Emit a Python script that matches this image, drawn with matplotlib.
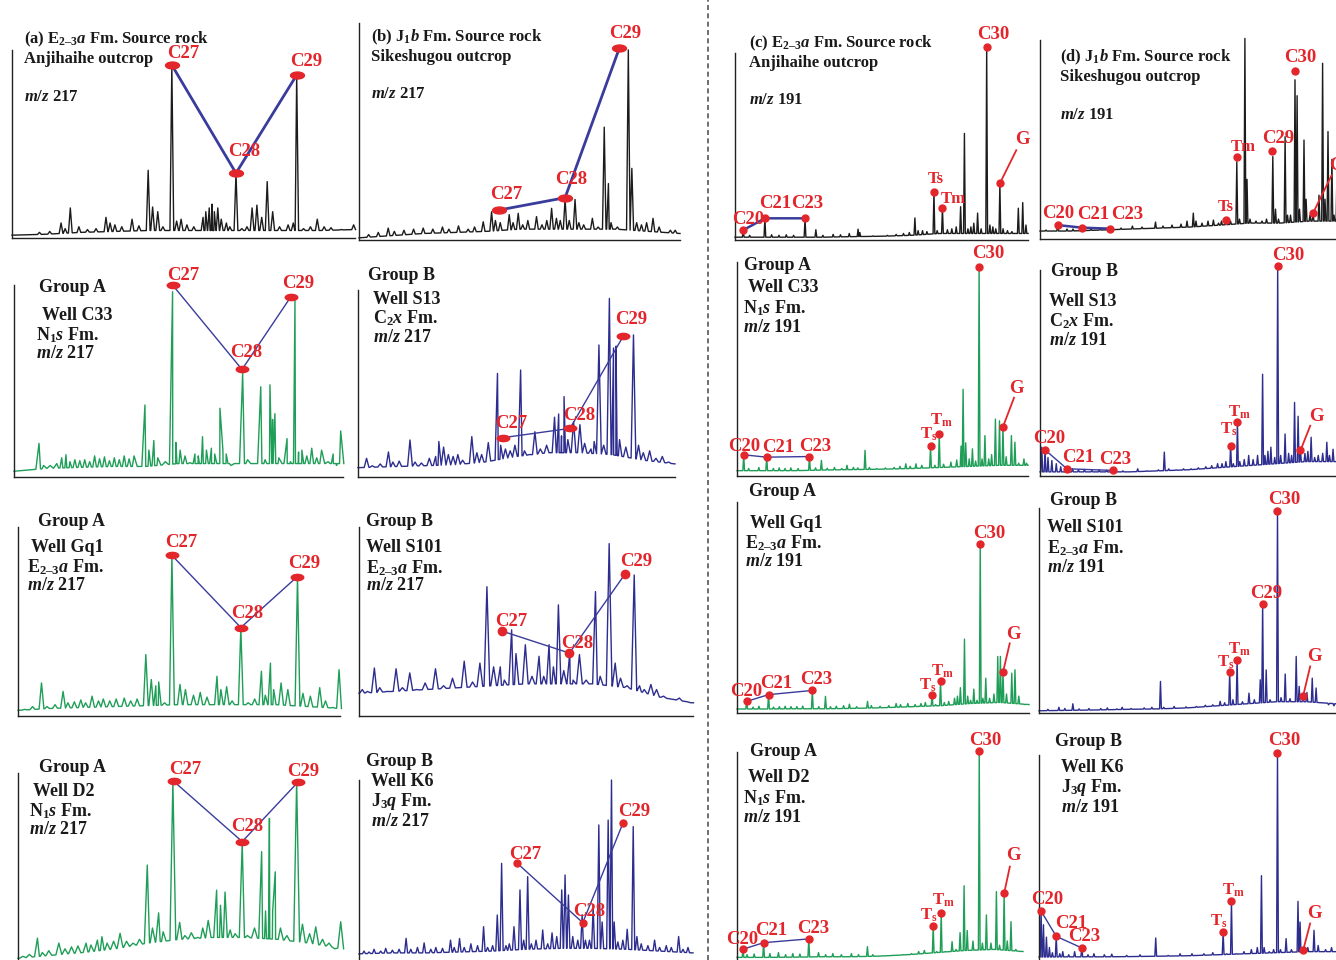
import numpy as np
import matplotlib
matplotlib.use("Agg")
import matplotlib.pyplot as plt
from matplotlib.path import Path
import matplotlib.transforms as mtrans

plt.rcParams['font.family'] = ['Liberation Serif', 'DejaVu Serif']
plt.rcParams['font.weight'] = 'bold'
plt.rcParams['mathtext.fontset'] = 'custom'
plt.rcParams['mathtext.rm'] = 'Liberation Serif:bold'
plt.rcParams['mathtext.it'] = 'Liberation Serif:italic:bold'
plt.rcParams['mathtext.bf'] = 'Liberation Serif:bold'

# ---------------------------------------------------------------- DATA
# each trace: baseline level at evenly spaced retention positions (0..100 %),
# peaks as (retention %, intensity % of panel height), labelled peaks as marks

# (a) E2-3a source rock, m/z 217
out_a_base = [1.5, 2, 3, 3.5, 4, 4, 4, 4, 4, 4, 4.5]
out_a_peaks = [(8, 3), (11, 3.5), (14.3, 8), (15.5, 5), (17, 16), (19.5, 6), (22, 4.5), (24.5, 5),
               (27.4, 11), (28.6, 8), (30, 7), (32, 6), (35, 10), (37, 6.5), (39.7, 36), (41, 16.5),
               (42.5, 14), (44, 6), (46.6, 92), (48, 9), (49.3, 10), (51, 7), (53, 6), (55.7, 11),
               (56.5, 14), (57.5, 16), (58.3, 18), (59, 14), (60, 16), (61, 10), (62.5, 8), (63.5, 6),
               (65.3, 34.5), (67, 5), (68.5, 6), (70, 16), (71.4, 17.5), (72.8, 11), (74.4, 30),
               (76, 14), (78, 6), (80.5, 7), (82, 8), (83, 86.7), (85, 5), (87, 6), (89, 10), (91, 6),
               (93, 5.5), (96, 4.5), (99.6, 7)]
out_a_marks = {'C27': (46.6, 92), 'C28': (65.3, 34.5), 'C29': (83, 86.7)}

# (b) J1b source rock, m/z 217
out_b_base = [1, 2, 3, 3.5, 4, 5, 5, 5, 5, 4, 3]
out_b_peaks = [(3, 2.5), (6, 3.5), (9.1, 5.5), (11, 4), (14, 4.5), (17, 5), (20, 5.5), (23, 5),
               (26, 6), (28, 5), (31, 6.5), (34, 5), (36, 6), (38.7, 8.4), (41.3, 13), (42.5, 9),
               (44, 8), (46.8, 11.7), (48, 8), (49.6, 12.3), (51, 7), (52.6, 9), (55.3, 10.8),
               (57, 7), (58.5, 9), (60, 14.6), (61.5, 10), (62.7, 9), (64.2, 19), (65.5, 9),
               (67.3, 18.7), (68.5, 8), (70, 7), (72.7, 10), (74.5, 6), (76.4, 52), (77.7, 26),
               (78.5, 8), (80.5, 6), (83.9, 87.6), (85, 33), (86.5, 8), (88, 7), (89.6, 8),
               (91.6, 10), (93.5, 6), (95, 3.5), (97, 4.5), (98.5, 4.5)]
out_b_marks = {'C27': (43.6, 13.8), 'C28': (64.2, 19.5), 'C29': (81.1, 88.4)}

# (c) E2-3a source rock, m/z 191
out_c_base = [1.5, 1.5, 1.5, 1.5, 1.8, 2, 2.5, 3.5, 3.5, 3.5, 3.5]
out_c_peaks = [(2.8, 5.3), (5, 2.5), (10.2, 11.6), (12.5, 2.8), (15, 2.5), (17.5, 2.8), (20, 2.5),
               (23.9, 11.6), (27.6, 5.5), (30, 2.5), (33.5, 3), (36, 2.8), (39, 3.5), (42, 5.8),
               (42.6, 4), (47, 2.2), (52, 2.5), (55, 3), (57.5, 3.5), (59.5, 4), (61.4, 11.8),
               (62.5, 5), (64, 5), (65.5, 4.5), (67.9, 25.8), (69, 5), (70.8, 17), (72.5, 5.5),
               (74, 6), (75.5, 7), (77, 17.8), (78.3, 57), (79.5, 6), (80.5, 7), (81.5, 9),
               (82.8, 14.4), (84, 6), (85.9, 103), (87, 8), (88, 7), (89, 6), (90.4, 30.3),
               (91.5, 6), (93, 5), (94.5, 4.5), (96.7, 17), (98.2, 20), (99.3, 8)]
out_c_marks = {'C20': (2.8, 5.3), 'C21': (10.2, 11.6), 'C23': (23.9, 11.6), 'Ts': (67.9, 25.8),
               'Tm': (70.8, 17), 'C30': (85.9, 103), 'G': (90.4, 30.3)}

# (d) J1b source rock, m/z 191
out_d_base = [4, 4, 4.5, 5, 5.5, 6, 7, 8, 8, 9, 9]
out_d_peaks = [(2, 4.5), (5.9, 7), (9, 5), (11, 5), (13.9, 5.7), (17, 5), (20, 5), (23.3, 5.2),
               (27, 5.5), (30.8, 6.5), (34, 6), (38.5, 8.5), (41, 6.5), (44, 7), (47, 7.5), (49, 9),
               (51.1, 13), (52, 9), (54, 8), (56, 9), (57.8, 9.5), (59.5, 8), (60.5, 9), (62, 9.5),
               (63.5, 9), (65.6, 38.8), (66.5, 10), (68.3, 100.8), (69, 30), (70, 10), (72, 9),
               (74, 9), (75.5, 10), (77.6, 41.4), (78.5, 15), (79.5, 10), (81.7, 51.4), (82.5, 12),
               (83.5, 12), (85, 80), (85.7, 72), (86.5, 15), (88, 49.7), (88.7, 20), (90, 12),
               (91, 13), (93, 22), (94.2, 88.3), (95, 20), (96, 54), (97.3, 40), (98, 12),
               (99, 35), (99.8, 62)]
out_d_marks = {'C20': (5.9, 7), 'C21': (13.9, 5.7), 'C23': (23.3, 5.2), 'Ts': (62, 9.5),
               'Tm': (65.6, 41), 'C29': (77.4, 44), 'C30': (85, 84.4), 'G': (91, 13)}

# Group A, Well C33, m/z 217
c33_217_base = [3, 4.5, 5, 5.5, 5.5, 7, 7, 7, 7, 7, 7]
c33_217_peaks = [(7.6, 17.5), (9, 6), (11, 6), (13, 7), (14.5, 10), (15.8, 11.6), (17, 8), (18.5, 9),
                 (20, 8.5), (21.5, 9), (23, 8), (24.5, 11), (26, 9.5), (27.5, 10.5), (29, 8.5),
                 (30.5, 10), (32, 9), (33.5, 11), (35, 9.5), (36.5, 11), (39.8, 37.5), (41, 14),
                 (42.5, 19), (43.7, 10), (46, 8), (48.2, 96.5), (49.2, 18), (50.5, 14), (52, 11),
                 (53.5, 7.5), (55, 12), (56, 11), (57.3, 21), (58.5, 14), (60, 15), (61, 12),
                 (62.6, 35.8), (63.5, 14), (64.5, 12), (66, 6), (69.5, 54), (71, 9), (73, 7),
                 (75, 47), (76.3, 9), (77.8, 48), (78.6, 30), (79.3, 33), (80.5, 10), (83, 20),
                 (84, 8), (85.4, 92), (86.5, 13), (87.5, 14), (89, 11), (90.5, 15), (92, 10),
                 (93.5, 14), (95.5, 8), (97, 12), (98, 6), (99.3, 24)]
c33_217_marks = {'C27': (48.2, 100), 'C28': (69.3, 56), 'C29': (84.2, 94)}

# Group B, Well S13, m/z 217
s13_217_base = [5, 5.5, 6, 6.5, 8, 11, 13, 13, 12, 9, 7]
s13_217_peaks = [(2.7, 10), (4.5, 6), (7, 7), (9.6, 13.4), (11, 8), (13, 8.5), (16.4, 19.8), (18, 8),
                 (20, 7.5), (22.5, 10), (24.5, 11), (25.5, 19), (27, 16), (28.5, 12), (30, 11),
                 (31.5, 12), (33, 9), (35.9, 21.6), (37.5, 13), (39, 12), (41.1, 18.4), (44, 55.4),
                 (45, 17), (46.5, 15), (48, 14), (49.5, 17), (51.3, 57.2), (52.5, 14), (54, 12),
                 (55.8, 24.2), (57.5, 15), (59.5, 17), (62, 32), (63.3, 33.7), (64.2, 22), (65, 43),
                 (66.2, 20), (68, 29.5), (70, 28), (71.5, 18), (73.5, 15), (74.5, 19), (76, 70.6),
                 (77.5, 17), (79.3, 95.5), (80.6, 69), (81.4, 70), (82.5, 20), (84.5, 16),
                 (86.9, 76), (88.5, 17), (90, 13), (92, 14), (94, 10), (96, 11), (98, 8)]
s13_217_marks = {'C27': (45.6, 21), 'C28': (66.9, 26), 'C29': (83.7, 75.4)}

# Group A, Well Gq1, m/z 217
gq1_217_base = [3, 4, 4.5, 5, 5.5, 6, 6, 6, 6, 5, 4]
gq1_217_peaks = [(2, 3.5), (4.5, 5), (7.3, 17.5), (9, 5), (11.5, 6), (14, 13), (15.5, 7), (17.5, 7.5),
                 (19.5, 8.5), (21, 7), (23, 10.5), (25, 8), (26.5, 9), (28.5, 8), (30.5, 9),
                 (33, 9.5), (35, 8), (37, 9), (39.7, 32.5), (41.4, 19.3), (42.8, 16), (43.7, 18),
                 (45.5, 7), (47.8, 85), (50.3, 16.7), (52, 14), (54.5, 11), (56.6, 12.5),
                 (58.7, 10), (61.8, 21), (63, 14), (64.8, 15.5), (66.5, 8), (69.2, 46.5), (71.5, 7),
                 (73.5, 9), (75.6, 23.7), (76.8, 11), (78.4, 28), (79.4, 14), (81.7, 17.5),
                 (83.8, 14), (86.8, 73.3), (88.5, 12), (90.8, 10.5), (93.7, 15), (95.5, 8),
                 (97.8, 4.5), (99.7, 24.5)]
gq1_217_marks = {'C27': (47.8, 85), 'C28': (69.2, 46.8), 'C29': (86.7, 73.7)}

# Group B, Well S101, m/z 217
s101_217_base = [12, 13, 14, 15, 16, 17, 17, 17, 15, 10, 7]
s101_217_peaks = [(1, 14), (2.5, 13), (4.6, 25.4), (6.2, 15), (8.5, 13), (11.1, 25), (13, 15),
                  (15.2, 22.8), (17.2, 14), (19.8, 17.5), (22.9, 25), (25.3, 16), (28, 20),
                  (31.5, 29), (34, 18), (36.2, 28), (38.3, 68.4), (40.3, 26), (42.3, 26), (43.5, 19),
                  (45.7, 45.6), (47, 33), (49.8, 37.7), (51.8, 21), (53.9, 31.6), (55.3, 21),
                  (56.9, 37.7), (58.2, 26), (59.7, 58.8), (61.3, 24), (63.1, 33.3), (64.1, 19),
                  (66, 32.5), (68, 19), (70.8, 65.8), (72.2, 21), (74.9, 91.2), (76.7, 28),
                  (78.3, 20), (80.3, 16), (82.4, 74.6), (84, 16), (85.4, 14), (87.4, 16.7),
                  (89.1, 14), (91.2, 10.5), (93.2, 9), (95.9, 9.5), (99.3, 7)]
s101_217_marks = {'C27': (42.7, 45), 'C28': (63, 33.3), 'C29': (79.6, 75)}

# Group A, Well D2, m/z 217
d2_217_base = [2, 3.5, 5, 7, 10, 12, 13, 13, 12, 10, 7]
d2_217_peaks = [(1.5, 3), (3.5, 4), (6, 12.6), (7.5, 5), (9.5, 6), (12.6, 10), (14.5, 7), (16.5, 8),
                (18.5, 8.5), (21, 10), (22.5, 9), (24.5, 11.6), (25.9, 13.4), (27.5, 10), (29.5, 11),
                (31.5, 15.2), (33.5, 11), (35.5, 10), (37.5, 12), (39.9, 51.3), (41.5, 18),
                (43.4, 26), (44.8, 16), (47.8, 95.4), (49.9, 21), (51.5, 14), (53.5, 15.5),
                (55.5, 13), (57, 18), (58.7, 22), (61.3, 38), (62.5, 30), (63.9, 37), (65.5, 17),
                (67, 15), (69.2, 63), (70.8, 14), (73, 18), (75.2, 58.4), (76.4, 27), (77.6, 76),
                (78.6, 27), (79.4, 47.7), (81, 18), (83, 14), (86, 95.4), (87.8, 20), (90, 15),
                (91.9, 18.6), (94, 12), (96, 10), (97.8, 7), (99.6, 21.3)]
d2_217_marks = {'C27': (48, 95.7), 'C28': (69.2, 63.7), 'C29': (86.3, 95)}

# Group B, Well K6, m/z 217
k6_217_base = [4.5, 5, 5, 5.5, 6, 7, 7.5, 7.5, 7, 6, 5]
k6_217_peaks = [(1.5, 6), (3, 5.5), (4.5, 7), (6.5, 6), (8, 7.5), (10, 6.5), (12, 7), (14.1, 13),
                (15.5, 7), (17.5, 8), (19.5, 10.5), (21.5, 7), (23, 8), (25, 7.5), (27.4, 12),
                (28.5, 8), (30.1, 12.9), (31.5, 8), (33.5, 10), (35.5, 9), (37.3, 19.4), (38.5, 8),
                (40, 9), (41.4, 25.8), (42.7, 54.2), (44, 9), (45, 10), (46.4, 19.4), (48.2, 39.6),
                (49.3, 12), (50.5, 46.9), (51.6, 10), (53, 12), (55, 17.6), (56.5, 10), (57.8, 16),
                (59.2, 14), (60.7, 39.6), (61.7, 47.8), (62.7, 36.8), (64, 14), (65.5, 12),
                (66.8, 26), (67.8, 12), (69, 12), (70.1, 30), (71.8, 75.3), (72.8, 22), (74.6, 78),
                (75.6, 100), (76.4, 22), (77.5, 11), (79, 12), (80.3, 18), (82.1, 74.4),
                (83.2, 14), (84.5, 10), (86.5, 9), (88.5, 12), (90, 8), (92, 9), (93.5, 8),
                (95.7, 14), (97, 7), (98.5, 8)]
k6_217_marks = {'C27': (47.4, 54.2), 'C28': (67, 21.6), 'C29': (79, 76.2)}

# Group A, Well C33, m/z 191
c33_191_base = [2.5, 2.5, 2.5, 2.8, 3, 3.2, 3.5, 4, 4.5, 5, 5]
c33_191_peaks = [(2.3, 9.9), (4, 3.5), (7.5, 4), (10.2, 8.8), (12.5, 3.5), (14.5, 3.8), (16.5, 3.5),
                 (18.5, 3.8), (21, 3.5), (24.9, 9.1), (27, 3.8), (29, 7.3), (31, 3.6), (33.5, 4),
                 (36, 3.5), (37.8, 5), (40, 4), (41.5, 3.8), (44, 12), (45.5, 4), (48, 3.5),
                 (51, 3.8), (54, 4), (56, 4.5), (58, 5.7), (59.5, 4.5), (61.5, 5.7), (63.5, 5),
                 (66.5, 13.8), (68, 5), (69.5, 19.6), (71, 5.5), (73.5, 6.5), (75.5, 7.5), (77, 14),
                 (77.7, 40.5), (78.6, 15.5), (79.8, 8), (80.9, 12.7), (82, 7), (83.2, 97.7),
                 (84.2, 8), (85.2, 18.9), (86.5, 8), (87.5, 10), (88.8, 26.6), (90.2, 25.8),
                 (91.4, 23), (92.5, 9), (94.3, 18.9), (95.5, 15.8), (96.8, 6), (98.6, 8), (99.5, 6)]
c33_191_marks = {'C20': (2.3, 9.9), 'C21': (10.2, 8.8), 'C23': (24.9, 9.1), 'Ts': (66.5, 13.8),
                 'Tm': (69.5, 19.6), 'C30': (83.2, 97.7), 'G': (91.4, 23)}

# Group B, Well S13, m/z 191
s13_191_base = [2, 2, 2, 2, 2.5, 3, 4, 5, 6, 7, 7]
s13_191_peaks = [(0.6, 14), (1.7, 12.7), (2.7, 9), (4, 7.5), (5.5, 6), (7, 4.5), (9.1, 3.5), (11, 3.5),
                 (13, 3), (15, 3.2), (17.5, 2.8), (20, 3), (22.5, 2.8), (24.8, 2.7), (28, 2.5),
                 (33, 3.5), (36, 2.5), (40, 3), (42, 11.6), (43.5, 3.5), (46, 3), (48.5, 3.5),
                 (51, 3.5), (53.5, 4), (56, 4.5), (58, 5), (60, 6), (61.5, 6), (62.8, 7),
                 (64.4, 14.8), (65.3, 6), (66.7, 26), (67.5, 7), (69, 8), (70.5, 10), (72, 8),
                 (73.5, 10), (75.2, 49.4), (76, 10), (77, 12), (78, 14), (79.3, 9), (80.3, 102),
                 (81.3, 10), (82.8, 20.4), (84, 11), (85, 10), (86, 35.7), (87.2, 29), (88, 12.4),
                 (89.5, 11), (90.5, 12), (91.6, 18.8), (92.8, 9), (94, 10), (95.5, 11), (96.9, 16.4),
                 (97.8, 10), (99, 13)]
s13_191_marks = {'C20': (1.7, 12.7), 'C21': (9.1, 3.5), 'C23': (24.8, 2.7), 'Ts': (64.4, 14.8),
                 'Tm': (66.7, 26), 'C30': (80.3, 102), 'G': (88, 12.4)}

# Group A, Well Gq1, m/z 191
gq1_191_base = [1.9, 1.9, 2, 2, 2.2, 2.5, 3, 3.5, 4.5, 5, 4]
gq1_191_peaks = [(3.3, 5.5), (5.5, 2.8), (7.5, 3.2), (10.8, 8.7), (12.5, 2.8), (14.5, 3), (16.5, 3.2),
                 (18.5, 3), (20.5, 3), (22.5, 3.3), (25.8, 10.7), (28, 3), (30.3, 7.9), (32, 3),
                 (34, 3.2), (36.5, 3.5), (38.5, 4.2), (41, 3), (44.7, 5.5), (46, 3.5), (49, 3.2),
                 (52, 3.5), (54.5, 4.5), (56, 4), (58.5, 4.5), (61, 4), (63, 4.5), (64.5, 5),
                 (66.8, 8.7), (68, 4), (69.7, 15), (71, 5), (72.5, 5.5), (74.5, 7), (75.5, 8),
                 (76.5, 12), (77.9, 35), (79, 8), (80, 6), (81.1, 11.3), (82.2, 6), (83.3, 80.3),
                 (84.2, 7), (85.2, 16.5), (86.5, 7), (88, 9), (89.3, 26.8), (90.2, 26.8),
                 (91.1, 19.4), (92.3, 9), (94.1, 18.9), (95.2, 20.5), (96.5, 8), (98.5, 4)]
gq1_191_marks = {'C20': (3.3, 5.5), 'C21': (10.8, 8.7), 'C23': (25.8, 10.7), 'Ts': (66.8, 8.7),
                 'Tm': (69.7, 15), 'C30': (83.3, 80.3), 'G': (91.1, 19.4)}

# Group B, Well S101, m/z 191
s101_191_base = [1.1, 1.3, 1.5, 1.8, 2, 2.5, 3.5, 4.5, 5.5, 5.5, 4.5]
s101_191_peaks = [(3, 1.8), (6.7, 2.8), (8.7, 2.2), (11.4, 4.5), (13.5, 2), (16.8, 2.2), (20.8, 2.2),
                  (23, 2.5), (26.2, 2), (28, 2.8), (31, 2.2), (35.4, 2.5), (38, 2.8), (40.9, 15.4),
                  (42, 2.8), (45.5, 3.2), (49.5, 3), (53, 3.2), (56, 3.8), (58.5, 4), (61, 5.7),
                  (62.5, 5), (64.2, 19.8), (65.3, 6.5), (66.7, 26), (68.5, 5.5), (70.7, 9.7),
                  (72.5, 6.5), (74.5, 16.2), (75.3, 53.2), (76.5, 21), (77.8, 6.5), (80.3, 98.7),
                  (81.5, 7.5), (82.9, 19), (84.5, 7), (86.6, 27.6), (87.6, 13), (88.9, 8.1),
                  (90.2, 10), (92, 17), (93.3, 12.2), (95.5, 5), (97.5, 4), (99.3, 3.5)]
s101_191_marks = {'Ts': (64.2, 19.8), 'Tm': (66.7, 26), 'C29': (75.3, 53.2), 'C30': (80.3, 98.7),
                  'G': (88.9, 8.1)}

# Group A, Well D2, m/z 191
d2_191_base = [2.2, 2.2, 2.3, 2.5, 2.5, 2.8, 3.5, 4.5, 5.5, 6, 5]
d2_191_peaks = [(2.1, 6.1), (3.5, 3.5), (6, 3.8), (9.3, 9.2), (11.5, 4), (14.5, 4.5), (17, 3.5),
                (19.5, 4), (22, 3.8), (25.1, 11), (28.5, 4.5), (31, 3.5), (33.5, 4), (36.5, 3.5),
                (40, 4), (42.5, 3.5), (45.6, 7.3), (47.5, 3.5), (51, 3), (54.5, 3.2), (58, 3.5),
                (61, 4), (63.5, 5), (65.5, 5.5), (68.6, 17.1), (69.8, 5), (71.4, 23.4), (72.8, 5),
                (75.2, 9.7), (76.6, 6), (78, 14), (79.4, 36.3), (80.5, 15), (82.5, 10),
                (84.7, 100.5), (85.8, 9), (87.2, 22.4), (88.8, 9), (90.7, 33.5), (91.8, 8),
                (93.4, 32.7), (94.5, 10), (95.8, 19.2), (97.5, 6), (99, 5)]
d2_191_marks = {'C20': (2.1, 6.1), 'C21': (9.3, 9.2), 'C23': (25.1, 11), 'Ts': (68.6, 17.1),
                'Tm': (71.4, 23.4), 'C30': (84.7, 100.5), 'G': (93.4, 32.7)}

# Group B, Well K6, m/z 191
k6_191_base = [2.4, 2.5, 2.5, 2.6, 2.8, 3, 3.5, 4, 4.5, 5, 5]
k6_191_peaks = [(0.7, 24.6), (1.5, 18), (2.5, 12), (3.5, 7), (4.5, 4.5), (5.8, 12.4), (7, 4), (8, 5),
                (10, 3.5), (12, 5), (14.4, 6.8), (16.5, 3.5), (18.5, 4), (22, 3.5), (24.5, 3.8),
                (29.5, 3.2), (34, 3.5), (39.3, 11.6), (43.5, 3.2), (47.5, 4), (51.5, 4), (55.5, 4),
                (58.5, 4.5), (62, 14.5), (63.2, 4), (64.8, 29.3), (66.5, 4), (69, 5), (71.5, 6),
                (73.5, 7), (74.9, 41.7), (75.8, 7), (77.5, 5), (79, 6), (80.3, 100.8), (81.3, 6),
                (83.2, 11.3), (85, 6), (87.2, 29.3), (87.9, 19.3), (89, 6), (90.5, 7), (92.6, 15.3),
                (94, 8), (96.5, 6), (98.5, 7)]
k6_191_marks = {'C20': (0.7, 24.6), 'C21': (5.8, 12.4), 'C23': (14.4, 6.8), 'Ts': (62, 14.5),
                'Tm': (64.8, 29.3), 'C30': (80.3, 100.8), 'G': (89, 6)}

# ---------------------------------------------------------------- TEXT
E23 = 'E$_{\\mathrm{2\u20133}}a$'
txt_a = ['(a) ' + E23 + ' Fm. Source rock', 'Anjihaihe outcrop', '$m/z$ 217']
txt_b = ['(b) J$_{\\mathrm{1}}b$ Fm. Source rock', 'Sikeshugou outcrop', '$m/z$ 217']
txt_c = ['(c) ' + E23 + ' Fm. Source rock', 'Anjihaihe outcrop', '$m/z$ 191']
txt_d = ['(d) J$_{\\mathrm{1}}b$ Fm. Source rock', 'Sikeshugou outcrop', '$m/z$ 191']
N1s = 'N$_{\\mathrm{1}}s$ Fm.'
C2x = 'C$_{\\mathrm{2}}x$ Fm.'
J3q = 'J$_{\\mathrm{3}}q$ Fm.'
E23f = E23 + ' Fm.'

# ---------------------------------------------------------------- STYLE / LAYOUT
W, H = 1336, 960
BLACK = '#1c1c1c'
GREEN = '#1f9e57'
NAVY = '#2d2d8f'
RED = '#e3262b'
LINK = '#3a3c9c'
ELLIPSE = Path.unit_circle().transformed(mtrans.Affine2D().scale(1.0, 0.5))

TS = 'T$_{\\mathrm{s}}$'
TM = 'T$_{\\mathrm{m}}$'

panels = [
    dict(base=out_a_base, peaks=out_a_peaks, marks=out_a_marks, box=(12, 355, 50, 238), color=BLACK,
         w=0.55, chain=['C27', 'C28', 'C29'], chain_lw=2.0, mk=ELLIPSE, ms=10,
         labels={'C27': (50, 98), 'C28': (67.6, 46), 'C29': (85.7, 94)},
         text=[(24, 39, txt_a[0]), (24, 59, txt_a[1]), (24, 97, txt_a[2])], tsize=12),
    dict(base=out_b_base, peaks=out_b_peaks, marks=out_b_marks, box=(359, 680, 23, 240), color=BLACK,
         w=0.55, chain=['C27', 'C28', 'C29'], chain_lw=2.0, mk=ELLIPSE, ms=10,
         labels={'C27': (46, 21), 'C28': (66, 28), 'C29': (82.8, 95)},
         text=[(371, 37, txt_b[0]), (371, 57, txt_b[1]), (371, 94, txt_b[2])], tsize=12),
    dict(base=out_c_base, peaks=out_c_peaks, marks=out_c_marks, box=(735, 1028, 53, 240), color=BLACK,
         w=0.3, chain=['C20', 'C21', 'C23'], chain_lw=1.8, mk='o', ms=5,
         labels={'C20': (4.5, 10.8), 'C21': (13.7, 19.3), 'C23': (24.8, 19.3), 'Ts': (68.5, 32.5),
                 'Tm': (74.5, 22), 'C30': (88, 110), 'G': (98, 53.5)},
         names={'Ts': 'Ts', 'Tm': 'Tm'}, leader=(96, 48),
         text=[(749, 43, txt_c[0]), (749, 63, txt_c[1]), (749, 100, txt_c[2])], tsize=12),
    dict(base=out_d_base, peaks=out_d_peaks, marks=out_d_marks, box=(1040, 1340, 40, 239), color=BLACK,
         w=0.3, chain=['C20', 'C21', 'C23'], chain_lw=1.8, mk='o', ms=5,
         labels={'C20': (6, 13), 'C21': (17.7, 12.5), 'C23': (29, 12.4), 'Ts': (62, 16),
                 'Tm': (67.8, 46), 'C29': (79.3, 50.7), 'C30': (86.7, 91), 'G': (98.8, 37)},
         names={'Ts': 'Ts', 'Tm': 'Tm'}, leader=(97.2, 32),
         text=[(1060, 57, txt_d[0]), (1060, 77, txt_d[1]), (1060, 115, txt_d[2])], tsize=12),

    dict(base=c33_217_base, peaks=c33_217_peaks, marks=c33_217_marks, box=(14, 343, 285, 477),
         color=GREEN, w=0.95, chain=['C27', 'C28', 'C29'], chain_lw=1.0, mk=ELLIPSE, ms=9,
         labels={'C27': (51.4, 105), 'C28': (70.7, 65), 'C29': (86.4, 101)},
         text=[(39, 287, 'Group A'), (42, 315, 'Well C33'), (36, 335, N1s), (36, 353, '$m/z$ 217')]),
    dict(base=s13_217_base, peaks=s13_217_peaks, marks=s13_217_marks, box=(358, 675, 290, 477),
         color=NAVY, w=0.75, chain=['C27', 'C28', 'C29'], chain_lw=1.0, mk=ELLIPSE, ms=9,
         labels={'C27': (48.2, 28.7), 'C28': (69.7, 33), 'C29': (86.3, 84)},
         text=[(368, 276, 'Group B'), (373, 299, 'Well S13'), (373, 318, C2x), (373, 337, '$m/z$ 217')]),
    dict(base=c33_191_base, peaks=c33_191_peaks, marks=c33_191_marks, box=(737, 1028, 262, 476),
         color=GREEN, w=0.3, chain=['C20', 'C21', 'C23'], chain_lw=1.0, mk='o', ms=5,
         labels={'C20': (2.3, 14), 'C21': (14, 13.4), 'C23': (27, 14), 'Ts': (65.8, 19.6),
                 'Tm': (70.2, 25.8), 'C30': (86.3, 104), 'G': (95.9, 41)},
         names={'Ts': TS, 'Tm': TM}, leader=(95.2, 36.6),
         text=[(744, 266, 'Group A'), (748, 288, 'Well C33'), (743, 308, N1s), (743, 327, '$m/z$ 191')]),
    dict(base=s13_191_base, peaks=s13_191_peaks, marks=s13_191_marks, box=(1040, 1336, 270, 476),
         color=NAVY, w=0.3, chain=['C20', 'C21', 'C23'], chain_lw=1.0, mk='o', ms=5,
         labels={'C20': (3.1, 18), 'C21': (12.8, 9.2), 'C23': (25.5, 8), 'Ts': (63.8, 22.8),
                 'Tm': (67.5, 30.9), 'C30': (83.9, 107), 'G': (93.3, 29)},
         names={'Ts': TS, 'Tm': TM}, leader=(91.3, 24.4),
         text=[(1051, 271, 'Group B'), (1049, 301, 'Well S13'), (1049, 321, C2x), (1049, 340, '$m/z$ 191')]),

    dict(base=gq1_217_base, peaks=gq1_217_peaks, marks=gq1_217_marks, box=(18, 340, 527, 716),
         color=GREEN, w=0.75, chain=['C27', 'C28', 'C29'], chain_lw=1.0, mk=ELLIPSE, ms=9,
         labels={'C27': (50.6, 92), 'C28': (71.3, 54.4), 'C29': (89, 80.7)},
         text=[(38, 521, 'Group A'), (31, 547, 'Well Gq1'), (27, 567, E23f), (27, 585, '$m/z$ 217')]),
    dict(base=s101_217_base, peaks=s101_217_peaks, marks=s101_217_marks, box=(359, 693, 527, 716),
         color=NAVY, w=0.85, chain=['C27', 'C28', 'C29'], chain_lw=1.0, mk='o', ms=6,
         labels={'C27': (45.5, 50), 'C28': (65.4, 38.2), 'C29': (83, 81.6)},
         text=[(366, 522, 'Group B'), (366, 548, 'Well S101'), (366, 568, E23f), (366, 586, '$m/z$ 217')]),
    dict(base=gq1_191_base, peaks=gq1_191_peaks, marks=gq1_191_marks, box=(737, 1029, 502, 713),
         color=GREEN, w=0.3, chain=['C20', 'C21', 'C23'], chain_lw=1.0, mk='o', ms=5,
         labels={'C20': (3, 10.2), 'C21': (13.3, 14.2), 'C23': (27, 15.7), 'Ts': (65.2, 13),
                 'Tm': (70.2, 19.7), 'C30': (86.3, 85), 'G': (94.5, 37)},
         names={'Ts': TS, 'Tm': TM}, leader=(93.4, 33),
         text=[(749, 492, 'Group A'), (750, 523, 'Well Gq1'), (745, 543, E23f), (745, 562, '$m/z$ 191')]),
    dict(base=s101_191_base, peaks=s101_191_peaks, marks=s101_191_marks, box=(1039, 1336, 508, 713),
         color=NAVY, w=0.3, chain=[], chain_lw=1.0, mk='o', ms=5,
         labels={'Ts': (62.9, 24.7), 'Tm': (67.4, 31.2), 'C29': (76.5, 58.4), 'C30': (82.6, 104),
                 'G': (92.6, 27.6)},
         names={'Ts': TS, 'Tm': TM}, leader=(91.3, 22.7),
         text=[(1050, 500, 'Group B'), (1047, 528, 'Well S101'), (1047, 548, E23f), (1047, 567, '$m/z$ 191')]),

    dict(base=d2_217_base, peaks=d2_217_peaks, marks=d2_217_marks, box=(18, 342, 773, 962),
         color=GREEN, w=0.9, chain=['C27', 'C28', 'C29'], chain_lw=1.0, mk=ELLIPSE, ms=9,
         labels={'C27': (51.7, 101.6), 'C28': (70.6, 71.6), 'C29': (88, 101)},
         text=[(39, 768, 'Group A'), (33, 791, 'Well D2'), (29, 811, N1s), (29, 830, '$m/z$ 217')]),
    dict(base=k6_217_base, peaks=k6_217_peaks, marks=k6_217_marks, box=(359, 693, 780, 962),
         color=NAVY, w=0.45, chain=['C27', 'C28', 'C29'], chain_lw=1.0, mk='o', ms=5,
         labels={'C27': (49.8, 59.3), 'C28': (68.8, 27.7), 'C29': (82.4, 82.6)},
         text=[(366, 762, 'Group B'), (371, 781, 'Well K6'), (371, 802, J3q), (371, 822, '$m/z$ 217')]),
    dict(base=d2_191_base, peaks=d2_191_peaks, marks=d2_191_marks, box=(737, 1023, 752, 962),
         color=GREEN, w=0.3, chain=['C20', 'C21', 'C23'], chain_lw=1.0, mk='o', ms=5,
         labels={'C20': (1.7, 10.5), 'C21': (12.1, 15.2), 'C23': (26.5, 16), 'Ts': (67, 22.4),
                 'Tm': (72.3, 29.5), 'C30': (86.8, 105.7), 'G': (96.5, 50.9)},
         names={'Ts': TS, 'Tm': TM}, leader=(95.4, 45.4),
         text=[(750, 752, 'Group A'), (748, 778, 'Well D2'), (743, 798, N1s), (743, 817, '$m/z$ 191')]),
    dict(base=k6_191_base, peaks=k6_191_peaks, marks=k6_191_marks, box=(1039, 1336, 755, 962),
         color=NAVY, w=0.3, chain=['C20', 'C21', 'C23'], chain_lw=1.0, mk='o', ms=5,
         labels={'C20': (2.7, 30), 'C21': (10.7, 18.8), 'C23': (15.2, 12.3), 'Ts': (60.6, 19.6),
                 'Tm': (65.3, 34.6), 'C30': (82.6, 107), 'G': (92.6, 23.5)},
         names={'Ts': TS, 'Tm': TM}, leader=(91.3, 18.6),
         text=[(1055, 742, 'Group B'), (1061, 768, 'Well K6'), (1061, 788, J3q), (1061, 807, '$m/z$ 191')]),
]


def build_trace(base, peaks, w):
    bx = np.linspace(0, 100, len(base))
    by = np.asarray(base, dtype=float)
    pk_x = np.array([p[0] for p in peaks])
    pts = [(x, y) for x, y in zip(bx, by) if np.all(np.abs(pk_x - x) > w)]
    for x, h in peaks:
        pts.append((x - w, float(np.interp(x - w, bx, by))))
        pts.append((x, h))
        pts.append((x + w, float(np.interp(x + w, bx, by))))
    pts.sort(key=lambda p: p[0])
    xs = [p[0] for p in pts if 0 <= p[0] <= 100.5]
    ys = [p[1] for p in pts if 0 <= p[0] <= 100.5]
    return xs, ys


fig = plt.figure(figsize=(W / 100, H / 100), dpi=100)
fig.patch.set_facecolor('white')

for P in panels:
    x0, x1, yt, yb = P['box']
    ax = fig.add_axes([x0 / W, 1 - yb / H, (x1 - x0) / W, (yb - yt) / H])
    ax.set_xlim(0, 100)
    ax.set_ylim(0, 100)
    ax.patch.set_alpha(0)
    for s in ('top', 'right'):
        ax.spines[s].set_visible(False)
    for s in ('left', 'bottom'):
        ax.spines[s].set_color('#222222')
        ax.spines[s].set_linewidth(1.0)
    ax.set_xticks([])
    ax.set_yticks([])

    xs, ys = build_trace(P['base'], P['peaks'], P['w'])
    ax.plot(xs, ys, color=P['color'], lw=1.0, clip_on=False, zorder=2)

    marks = P['marks']
    if P['chain']:
        cx = [marks[k][0] for k in P['chain']]
        cy = [marks[k][1] for k in P['chain']]
        ax.plot(cx, cy, color=LINK, lw=P['chain_lw'], clip_on=False, zorder=3)
    if 'G' in marks and P.get('leader'):
        gx, gy = marks['G']
        lx, ly = P['leader']
        ax.plot([gx, lx], [gy, ly], color=RED, lw=1.3, clip_on=False, zorder=3)
    mx = [v[0] for v in marks.values()]
    my = [v[1] for v in marks.values()]
    ax.plot(mx, my, ls='none', marker=P['mk'], ms=P['ms'], color=RED, mec=RED,
            clip_on=False, zorder=4)

    names = P.get('names', {})
    for key, (lx, ly) in P['labels'].items():
        s = names.get(key, key)
        fs = 13.5 if key not in ('Ts', 'Tm') else 12
        ax.text(lx, ly, s, color=RED, fontsize=fs, fontweight='bold', ha='center', va='center',
                clip_on=False, zorder=5)

    tsize = P.get('tsize', 13)
    for tx, ty, s in P['text']:
        fig.text(tx / W, 1 - ty / H, s, fontsize=tsize, fontweight='bold', color='#1a1a1a',
                 ha='left', va='center')

# dashed divider between m/z 217 and m/z 191 halves
fig.add_artist(plt.Line2D([708 / W, 708 / W], [0, 1], color='#555555', lw=1.2,
                          linestyle=(0, (3, 2)), transform=fig.transFigure))

fig.savefig('out.png', dpi=100)
